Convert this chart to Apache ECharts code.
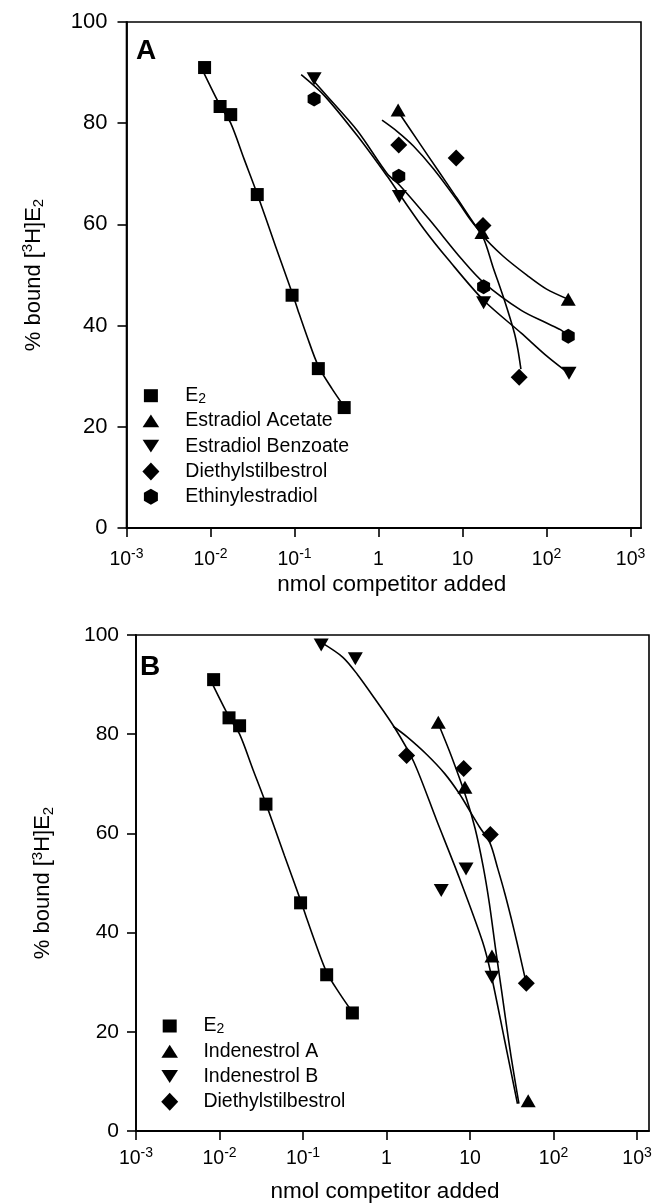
<!DOCTYPE html>
<html>
<head>
<meta charset="utf-8">
<title>Competitive binding of estrogens</title>
<script src="https://cdn.jsdelivr.net/npm/echarts@6.0.0/dist/echarts.min.js"></script>
<style>
  html, body { margin: 0; padding: 0; background: #fff; }
  #chart { width: 658px; height: 1204px; }
</style>
</head>
<body>
<div id="chart"></div>
<script>
// axis ticks
const xTicks = [0.001, 0.01, 0.1, 1, 10, 100, 1000];
const xTickBase = ['10', '10', '10', '1', '10', '10', '10'];
const xTickExp = ['-3', '-2', '-1', '', '', '2', '3'];
const yTicks = [0, 20, 40, 60, 80, 100];

// measured points (nmol, % bound)
const e2X = [0.0085, 0.013, 0.0174, 0.036, 0.0935, 0.192, 0.39];
const e2Y = [91, 83.3, 81.7, 65.9, 46, 31.5, 23.8];
const acetateX = [1.71, 17, 181];
const acetateY = [82.6, 58.4, 45.2];
const benzoateX = [0.171, 1.77, 17.8, 185];
const benzoateY = [88.8, 65.5, 44.5, 30.6];
const desX = [1.74, 8.4, 17.5, 47.2];
const desY = [75.7, 73.1, 59.8, 29.8];
const ethinylX = [0.171, 1.74, 17.8, 181];
const ethinylY = [84.8, 69.5, 47.7, 37.9];
const indAX = [4.17, 8.69, 18.3, 49.7];
const indAY = [82.4, 69.3, 35.3, 6.1];
const indBX = [0.165, 0.423, 4.52, 8.95, 18.3];
const indBY = [98, 95.2, 48.5, 52.8, 31];

// fitted curves
const e2FitX = [0.0083, 0.013, 0.0174, 0.025, 0.036, 0.06, 0.0935, 0.11, 0.14, 0.192, 0.28, 0.39];
const e2FitY = [90, 83.5, 80, 73, 66, 55.5, 46.5, 43, 38, 32, 27.5, 24];
const acetateFitX = [1.71, 3, 5, 8.4, 17, 30, 60, 100, 181];
const acetateFitY = [82.3, 76.3, 70.9, 65.4, 58, 53.8, 49.8, 47.2, 45.2];
const benzoateFitX = [0.12, 0.225, 0.56, 1.27, 1.77, 3.5, 6.8, 17.8, 50, 100, 185];
const benzoateFitY = [89.6, 85.5, 77.5, 69.5, 66, 59, 53, 45, 38.5, 34, 30.5];
const desFitAX = [1.1, 1.66, 2.6, 4.5, 8.4, 12.3, 17.5, 23, 31.5, 41.3, 45.5, 49.5];
const desFitAY = [80.6, 78.4, 75.5, 71, 65, 61, 57.5, 51.6, 45, 38.6, 35.3, 31.4];
const ethinylFitX = [0.17, 0.225, 0.56, 1.27, 1.77, 4, 9.8, 17.8, 50, 100, 146, 181];
const ethinylFitY = [88.3, 86, 78.5, 70, 67.8, 61, 53.1, 48.5, 43, 40.5, 39.2, 38];
const desFitBX = [1.2, 1.75, 3.03, 5, 7.46, 9.8, 13, 17.4, 21.4, 26, 31, 36.5, 42, 47.5];
const desFitBY = [81.6, 79.5, 75.9, 72, 68, 64.7, 61.3, 58, 53, 48, 43, 38, 33.5, 29.5];
const indAFitX = [4.2, 6, 8.96, 11.5, 14.3, 17, 20.3, 24, 29, 33.5, 38.5];
const indAFitY = [82, 75.5, 67.3, 61, 53.5, 46, 36.5, 28, 18.2, 11.5, 5.5];
const indBFitX = [0.165, 0.3, 0.45, 0.714, 1.23, 2.11, 3.97, 7.46, 14.1, 17.8, 25.8, 37];
const indBFitY = [98.5, 95.5, 92, 87.3, 81.5, 74.5, 62.7, 51, 38.2, 31.7, 18.5, 5.5];

const FONT = '"Liberation Sans", Arial, Helvetica, sans-serif';
const INK = '#000';
const HEX = 'path://M0,-10 L8.66,-5 L8.66,5 L0,10 L-8.66,5 L-8.66,-5 Z';

// legend icons drawn inside an 18x18 frame so that each keeps its own size
const ICON_SQUARE = 'path://M0,0 M18,18 M2,2.5 L16,2.5 L16,15.5 L2,15.5 Z';
const ICON_UP = 'path://M0,0 M18,18 M0.7,15.4 L17.3,15.4 L9,2.6 Z';
const ICON_DOWN = 'path://M0,0 M18,18 M0.7,2.6 L17.3,2.6 L9,15.4 Z';
const ICON_DIAMOND = 'path://M0,0 M18,18 M9,0 L17.5,9 L9,18 L0.5,9 Z';
const ICON_HEX = 'path://M0,0 M18,18 M9,1 L16,5 L16,13 L9,17 L2,13 L2,5 Z';

const pairs = (xs, ys) => xs.map((x, i) => [x, ys[i]]);

const markers = {
    'E2': { symbol: 'rect', symbolSize: 13 },
    'Estradiol Acetate': { symbol: 'triangle', symbolSize: [15, 13] },
    'Estradiol Benzoate': { symbol: 'triangle', symbolSize: [15, 13], symbolRotate: 180 },
    'Diethylstilbestrol': { symbol: 'diamond', symbolSize: 17 },
    'Ethinylestradiol': { symbol: HEX, symbolSize: [13, 15] },
    'Indenestrol A': { symbol: 'triangle', symbolSize: [15, 13] },
    'Indenestrol B': { symbol: 'triangle', symbolSize: [15, 13], symbolRotate: 180 },
};
const legendIcons = {
    'E2': ICON_SQUARE,
    'Estradiol Acetate': ICON_UP,
    'Estradiol Benzoate': ICON_DOWN,
    'Diethylstilbestrol': ICON_DIAMOND,
    'Ethinylestradiol': ICON_HEX,
    'Indenestrol A': ICON_UP,
    'Indenestrol B': ICON_DOWN,
};

const panels = [
    {
        label: 'A', labelPos: { left: 136, top: 37 },
        grid: { left: 126.5, top: 22, width: 514.5, height: 506 },
        xMax: 1330, tickMargin: 19, nameGap: 45, namePad: [0, 0, 0, 16],
        yLabelSize: 22, yLabelMargin: 19,
        legendPos: { left: 141.9, top: 385.7 }, legendPad: 20.4,
        points: [
            ['E2', e2X, e2Y], ['Estradiol Acetate', acetateX, acetateY],
            ['Estradiol Benzoate', benzoateX, benzoateY], ['Diethylstilbestrol', desX, desY],
            ['Ethinylestradiol', ethinylX, ethinylY],
        ],
        fits: [
            [e2FitX, e2FitY], [acetateFitX, acetateFitY], [benzoateFitX, benzoateFitY],
            [desFitAX, desFitAY], [ethinylFitX, ethinylFitY],
        ],
    },
    {
        label: 'B', labelPos: { left: 140, top: 653 },
        grid: { left: 136, top: 635, width: 513, height: 505 },
        xMax: 1390, tickMargin: 15, nameGap: 49, namePad: [0, 15, 0, 0],
        yLabelSize: 21, yLabelMargin: 17,
        legendPos: { left: 160.7, top: 1016 }, legendPad: 19.7,
        points: [
            ['E2', e2X, e2Y], ['Indenestrol A', indAX, indAY],
            ['Indenestrol B', indBX, indBY], ['Diethylstilbestrol', desX, desY],
        ],
        fits: [
            [e2FitX, e2FitY], [indAFitX, indAFitY], [indBFitX, indBFitY], [desFitBX, desFitBY],
        ],
    },
];

const tickLabel = value => {
    const i = xTicks.findIndex(t => Math.abs(Math.log10(t) - Math.log10(value)) < 1e-6);
    if (i < 0) {
        return '';
    }
    return `{b|${xTickBase[i]}}` + (xTickExp[i] ? `{s|${xTickExp[i]}}` : '');
};

const option = {
    animation: false,
    backgroundColor: '#fff',
    title: panels.map(p => ({
        text: p.label,
        left: p.labelPos.left,
        top: p.labelPos.top,
        padding: 0,
        textStyle: { fontFamily: FONT, fontSize: 28, fontWeight: 'bold', color: INK },
    })),
    grid: panels.map(p => ({
        ...p.grid,
        show: true,
        borderColor: INK,
        borderWidth: 1.6,
        backgroundColor: 'transparent',
    })),
    legend: panels.map(p => ({
        orient: 'vertical',
        left: p.legendPos.left,
        top: p.legendPos.top,
        padding: 0,
        itemGap: 5.25,
        itemWidth: 18,
        itemHeight: 18,
        selectedMode: false,
        data: p.points.map(([name]) => ({ name, icon: legendIcons[name] })),
        formatter: name => (name === 'E2' ? '{e|E}{sub|2}' : name),
        textStyle: {
            fontFamily: FONT,
            fontSize: 19.5,
            color: INK,
            lineHeight: 20,
            padding: [0, 0, 0, p.legendPad],
            rich: {
                e: { fontFamily: FONT, fontSize: 19.5, color: INK, lineHeight: 20 },
                sub: { fontFamily: FONT, fontSize: 14, color: INK, lineHeight: 4, verticalAlign: 'bottom' },
            },
        },
    })),
    xAxis: panels.map((p, i) => ({
        type: 'log',
        logBase: 10,
        gridIndex: i,
        min: xTicks[0],
        max: p.xMax,
        name: 'nmol competitor added',
        nameLocation: 'middle',
        nameGap: p.nameGap,
        nameTextStyle: { fontFamily: FONT, fontSize: 22.5, color: INK, padding: p.namePad },
        axisLine: { show: true, onZero: false, lineStyle: { color: INK, width: 1.8 } },
        axisTick: { show: true, length: 9, customValues: xTicks, lineStyle: { color: INK, width: 1.6 } },
        axisLabel: {
            customValues: xTicks,
            margin: p.tickMargin,
            formatter: tickLabel,
            rich: {
                b: { fontFamily: FONT, fontSize: 19.5, color: INK, lineHeight: 26 },
                s: { fontFamily: FONT, fontSize: 14, color: INK, lineHeight: 10, verticalAlign: 'top' },
            },
        },
        splitLine: { show: false },
        minorTick: { show: false },
    })),
    yAxis: panels.map((p, i) => ({
        type: 'value',
        gridIndex: i,
        min: yTicks[0],
        max: yTicks[yTicks.length - 1],
        interval: yTicks[1] - yTicks[0],
        name: '{t|% bound [}{sup|3}{t|H]E}{sub|2}',
        nameLocation: 'middle',
        nameRotate: 90,
        nameGap: 80,
        nameTextStyle: {
            rich: {
                t: { fontFamily: FONT, fontSize: 22, color: INK, lineHeight: 26 },
                sup: { fontFamily: FONT, fontSize: 15, color: INK, lineHeight: 10, verticalAlign: 'top' },
                sub: { fontFamily: FONT, fontSize: 15, color: INK, lineHeight: 8, verticalAlign: 'bottom' },
            },
        },
        axisLine: { show: true, lineStyle: { color: INK, width: 1.8 } },
        axisTick: { show: true, length: 9, lineStyle: { color: INK, width: 1.6 } },
        axisLabel: { fontFamily: FONT, fontSize: p.yLabelSize, color: INK, margin: p.yLabelMargin },
        splitLine: { show: false },
    })),
    series: panels.flatMap((p, i) => [
        ...p.fits.map(([xs, ys], k) => ({
            type: 'line',
            name: `fit ${i}-${k}`,
            xAxisIndex: i,
            yAxisIndex: i,
            data: pairs(xs, ys),
            symbol: 'none',
            smooth: 0.3,
            silent: true,
            lineStyle: { color: INK, width: 1.6 },
            z: 2,
        })),
        ...p.points.map(([name, xs, ys]) => ({
            type: 'scatter',
            name,
            xAxisIndex: i,
            yAxisIndex: i,
            data: pairs(xs, ys),
            ...markers[name],
            itemStyle: { color: INK, opacity: 1 },
            silent: true,
            z: 3,
        })),
    ]),
};

const chart = echarts.init(document.getElementById('chart'), null, { renderer: 'canvas' });
chart.setOption(option);
</script>
</body>
</html>
